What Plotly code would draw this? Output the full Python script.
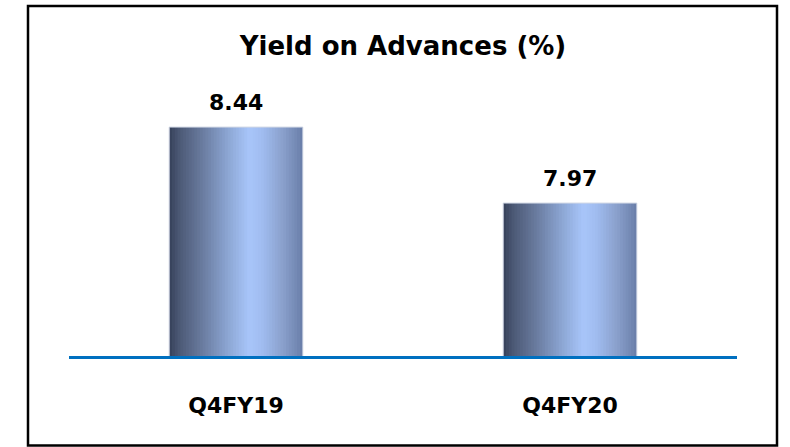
import plotly.graph_objects as go

categories = ["Q4FY19", "Q4FY20"]
values = [8.44, 7.97]
value_labels = ["8.44", "7.97"]
title_text = "Yield on Advances (%)"

# horizontal gradient (cylinder look) stops: (position, rgb)
stops = [
    (0.00, (0x36, 0x41, 0x5a)),
    (0.08, (0x4d, 0x5a, 0x77)),
    (0.25, (0x6a, 0x7c, 0xa0)),
    (0.45, (0x8e, 0xa8, 0xd6)),
    (0.60, (0xa8, 0xc5, 0xfa)),
    (0.70, (0xa0, 0xbc, 0xef)),
    (0.85, (0x8a, 0xa0, 0xcc)),
    (0.97, (0x70, 0x85, 0xb0)),
    (1.00, (0x6a, 0x7e, 0xa8)),
]


def grad_color(t):
    for (p0, c0), (p1, c1) in zip(stops[:-1], stops[1:]):
        if p0 <= t <= p1:
            f = (t - p0) / (p1 - p0) if p1 > p0 else 0
            c = [round(a + (b - a) * f) for a, b in zip(c0, c1)]
            return "rgb(%d,%d,%d)" % tuple(c)
    return "rgb(%d,%d,%d)" % stops[-1][1]


BAR_W = 0.4
N = 48
STEP = BAR_W / N
FONT = "DejaVu Sans"

fig = go.Figure()
for i in range(N):
    off = -BAR_W / 2 + i * STEP
    w = min(3 * STEP, BAR_W / 2 - off)
    fig.add_trace(go.Bar(
        x=categories, y=values,
        width=w, offset=off,
        marker=dict(color=grad_color((i + 0.5) / N), line=dict(width=0)),
        hoverinfo="skip", showlegend=False,
    ))
# faint outline
fig.add_trace(go.Bar(
    x=categories, y=values, width=BAR_W, offset=-BAR_W / 2,
    marker=dict(color="rgba(0,0,0,0)", line=dict(width=1, color="#cfd6e4")),
    hoverinfo="skip", showlegend=False,
))

for c, v, t in zip(categories, values, value_labels):
    fig.add_annotation(x=c, y=v, text="<b>%s</b>" % t, showarrow=False,
                       yanchor="bottom", yshift=10,
                       font=dict(family=FONT, size=22, color="#000000"))

fig.update_layout(
    width=790, height=447,
    barmode="overlay",
    paper_bgcolor="white", plot_bgcolor="white",
    margin=dict(l=69, r=53, t=60, b=91),
    title=dict(text="<b>%s</b>" % title_text, x=0.5, xref="paper",
               y=1 - 46 / 447, yref="container", yanchor="middle",
               font=dict(family=FONT, size=26, color="#000000")),
    xaxis=dict(showline=True, linecolor="#0070C0", linewidth=3,
               showgrid=False, zeroline=False, ticks="",
               tickfont=dict(family=FONT, size=22, color="#000000"),
               ticklabelstandoff=28, range=[-0.5, 1.5],
               tickvals=categories,
               ticktext=["<b>%s</b>" % c for c in categories]),
    yaxis=dict(visible=False, range=[7.024, 8.855]),
    shapes=[dict(type="rect", xref="paper", yref="paper",
                 x0=(28 - 69) / 668, x1=(777 - 69) / 668,
                 y0=(356 - 445.5) / 296, y1=(356 - 6) / 296,
                 line=dict(color="#000000", width=2.5), fillcolor="rgba(0,0,0,0)",
                 layer="above")],
)

fig.write_html("out.html", config={"displayModeBar": False},
               post_script="document.body.style.margin='0';")
